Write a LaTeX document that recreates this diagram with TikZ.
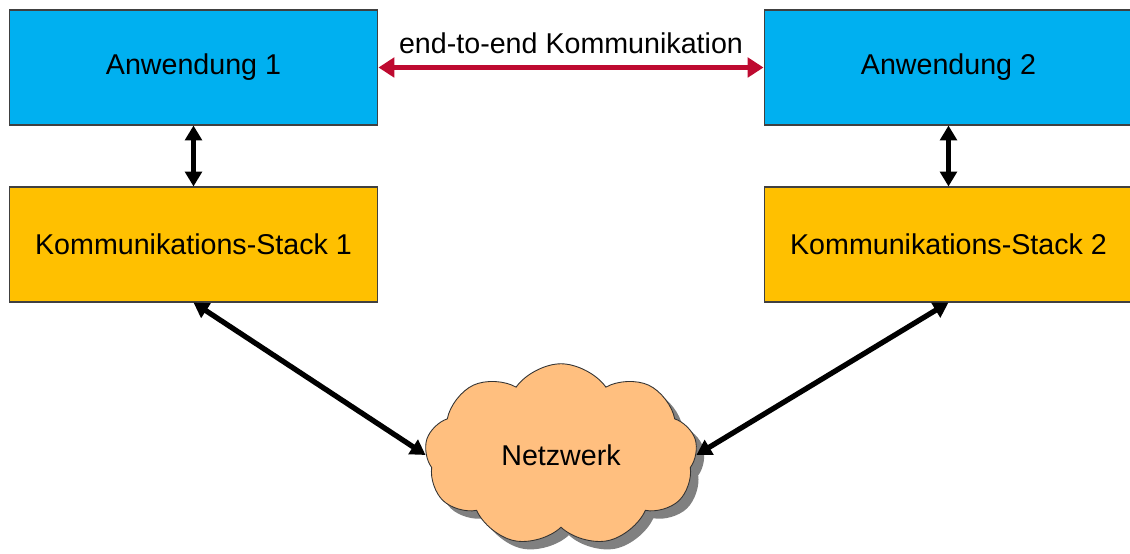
\documentclass[tikz,border=0pt]{standalone}
\usepackage{fontspec}
\setmainfont{Liberation Sans}
\usepackage{xcolor}
\usetikzlibrary{arrows.meta, shapes.symbols, shadows}
\definecolor{appblue}{HTML}{00B0F0}
\definecolor{stackorange}{HTML}{FFC000}
\definecolor{netorange}{HTML}{FFBF7F}
\definecolor{e2ered}{HTML}{BE0A30}
\tikzset{
    layerbox/.style={draw=black!75, line width=0.6pt, minimum width=7.38cm, minimum height=2.3cm, inner sep=0pt, font=\fontsize{16.3}{19}\selectfont},
    dataflow/.style={black, line width=3pt, {Triangle[length=8.5pt,width=9.5pt]}-{Triangle[length=8.5pt,width=9.5pt]}},
}

\begin{document}
\begin{tikzpicture}[x=0.02cm, y=-0.02cm]
    % Fix page size
    \useasboundingbox (0,0) rectangle (1130,554);
    % Draw application layer
    \node[layerbox, fill=appblue] (app1) at (193.5,67.5) {Anwendung 1};
    \node[layerbox, fill=appblue] (app2) at (948.5,67.5) {Anwendung 2};
    % Draw communication stacks
    \node[layerbox, fill=stackorange] (stack1) at (193.5,244.5) {Kommunikations-Stack 1};
    \node[layerbox, fill=stackorange] (stack2) at (948.5,244.5) {Kommunikations-Stack 2};
    % Draw network cloud
    \node[cloud, cloud puffs=9, cloud puff arc=110, aspect=1.45, draw=black!80, line width=0.5pt, fill=netorange,
        minimum width=5.45cm, minimum height=3.65cm, inner sep=0pt,
        drop shadow={shadow xshift=4.5pt, shadow yshift=-4.5pt, fill=black!50, opacity=1},
        font=\fontsize{16.3}{19}\selectfont] (net) at (561,455) {Netzwerk};
    % Draw end-to-end arrow
    \draw[e2ered, line width=3.2pt, {Triangle[length=9pt,width=11pt]}-{Triangle[length=9pt,width=11pt]}] (app1.east) -- (app2.west)
        node[midway, above=3pt, black, font=\fontsize{16.3}{19}\selectfont] (e2e) {end-to-end Kommunikation};
    % Draw layer arrows
    \draw[dataflow] (app1.south) -- (stack1.north);
    \draw[dataflow] (app2.south) -- (stack2.north);
    \draw[dataflow] (stack1.south) -- (net.west);
    \draw[dataflow] (stack2.south) -- (net.east);
\end{tikzpicture}
\end{document}
